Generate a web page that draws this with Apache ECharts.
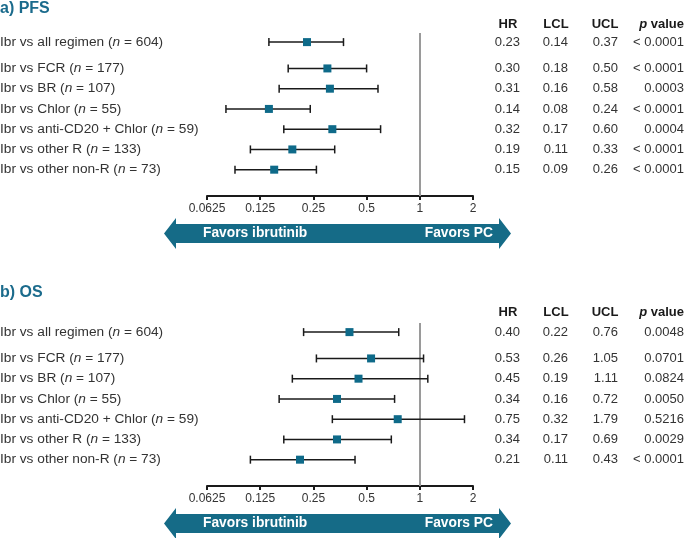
<!DOCTYPE html>
<html>
<head>
<meta charset="utf-8">
<script src="https://cdn.jsdelivr.net/npm/echarts@6/dist/echarts.min.js"></script>
<style>
html,body{margin:0;padding:0;background:#fff;}
#chart{width:685px;height:538px;}
</style>
</head>
<body>
<div id="chart"></div>
<script>
// ---- data ----
const comparisons = ['Ibr vs all regimen', 'Ibr vs FCR', 'Ibr vs BR', 'Ibr vs Chlor', 'Ibr vs anti-CD20 + Chlor', 'Ibr vs other R', 'Ibr vs other non-R'];
const nValues = [604, 177, 107, 55, 59, 133, 73];

const pfsHR  = [0.23, 0.30, 0.31, 0.14, 0.32, 0.19, 0.15];
const pfsLCL = [0.14, 0.18, 0.16, 0.08, 0.17, 0.11, 0.09];
const pfsUCL = [0.37, 0.50, 0.58, 0.24, 0.60, 0.33, 0.26];
const pfsP   = ['< 0.0001', '< 0.0001', '0.0003', '< 0.0001', '0.0004', '< 0.0001', '< 0.0001'];

const osHR  = [0.40, 0.53, 0.45, 0.34, 0.75, 0.34, 0.21];
const osLCL = [0.22, 0.26, 0.19, 0.16, 0.32, 0.17, 0.11];
const osUCL = [0.76, 1.05, 1.11, 0.72, 1.79, 0.69, 0.43];
const osP   = ['0.0048', '0.0701', '0.0824', '0.0050', '0.5216', '0.0029', '< 0.0001'];

const tickValues = [0.0625, 0.125, 0.25, 0.5, 1, 2];
const panelTitles = ['a) PFS', 'b) OS'];
const columnHeaders = ['HR', 'LCL', 'UCL', 'p value'];
const arrowLabels = ['Favors ibrutinib', 'Favors PC'];

// ---- layout (not data) ----
const rowPos = [0, 1.3, 2.3, 3.3, 4.3, 5.3, 6.3];
const FONT = '"Liberation Sans", Arial, Helvetica, sans-serif';
const TEAL = '#0e6a89';
const ARROW = '#156b87';
const TEXT = '#333333';
const gridLeft = 207, gridRight = 212, gridH = 163;
const panelTops = [33, 323];
const colRight = [520, 568, 618, 684];

const chart = echarts.init(document.getElementById('chart'));

function panelSeries(idx, HR, LCL, UCL, P) {
  const data = HR.map((h, i) => [i, LCL[i], UCL[i], h, rowPos[i]]);
  const custom = {
    type: 'custom',
    xAxisIndex: idx, yAxisIndex: idx,
    data: data,
    clip: false,
    silent: true,
    z: 3,
    renderItem: function (params, api) {
      const i = api.value(0);
      const y = api.value(4);
      const p1 = api.coord([api.value(1), y]);
      const p2 = api.coord([api.value(2), y]);
      const cy = p1[1];
      const ls = { stroke: '#1a1a1a', lineWidth: 1.5 };
      const kids = [
        { type: 'line', shape: { x1: p1[0], y1: cy, x2: p2[0], y2: cy }, style: ls },
        { type: 'line', shape: { x1: p1[0], y1: cy - 4, x2: p1[0], y2: cy + 4 }, style: ls },
        { type: 'line', shape: { x1: p2[0], y1: cy - 4, x2: p2[0], y2: cy + 4 }, style: ls },
        { type: 'text', style: {
            text: comparisons[i] + ' ({it|n} = ' + nValues[i] + ')',
            x: 0, y: cy, textAlign: 'left', textVerticalAlign: 'middle',
            font: '13.7px ' + FONT, fill: TEXT,
            rich: { it: { fontStyle: 'italic', fontSize: 13.7, fontFamily: FONT, fill: TEXT, color: TEXT } }
        } }
      ];
      const vals = [HR[i].toFixed(2), LCL[i].toFixed(2), UCL[i].toFixed(2), P[i]];
      vals.forEach((v, c) => {
        kids.push({ type: 'text', style: {
          text: v, x: colRight[c], y: cy, textAlign: 'right', textVerticalAlign: 'middle',
          font: '13px ' + FONT, fill: TEXT
        } });
      });
      return { type: 'group', children: kids };
    }
  };
  const scatter = {
    type: 'scatter',
    xAxisIndex: idx, yAxisIndex: idx,
    symbol: 'rect', symbolSize: 8,
    itemStyle: { color: TEAL, opacity: 1 },
    data: HR.map((h, i) => [h, rowPos[i]]),
    z: 4,
    silent: true,
    markLine: {
      silent: true, symbol: 'none',
      lineStyle: { color: '#9a9a9a', width: 2, type: 'solid' },
      label: { show: false },
      data: [{ xAxis: 1 }],
      z: 1
    }
  };
  return [custom, scatter];
}

function arrowGraphics(axisY) {
  const top = axisY + 28, bot = axisY + 47, mid = axisY + 37.5;
  const hTop = axisY + 22, hBot = axisY + 53;
  const L = 164, R = 511, Lb = 176, Rb = 499;
  return [
    { type: 'polygon', shape: { points: [[L, mid], [Lb, hTop], [Lb, top], [Rb, top], [Rb, hTop], [R, mid], [Rb, hBot], [Rb, bot], [Lb, bot], [Lb, hBot]] },
      style: { fill: ARROW } },
    { type: 'text', style: { text: arrowLabels[0], x: 203, y: mid, textAlign: 'left', textVerticalAlign: 'middle', font: 'bold 13.8px ' + FONT, fill: '#ffffff' } },
    { type: 'text', style: { text: arrowLabels[1], x: 493, y: mid, textAlign: 'right', textVerticalAlign: 'middle', font: 'bold 13.8px ' + FONT, fill: '#ffffff' } }
  ];
}

function headerGraphics(y) {
  const g = [];
  const centers = [508, 556, 605];
  columnHeaders.forEach((h, c) => {
    if (h === 'p value') {
      g.push({ type: 'text', style: { text: '{it|p} value', x: colRight[c], y: y, textAlign: 'right', textVerticalAlign: 'middle',
        font: 'bold 13px ' + FONT, fill: '#1a1a1a',
        rich: { it: { fontStyle: 'italic', fontWeight: 'bold', fontSize: 13, fontFamily: FONT, color: '#1a1a1a', fill: '#1a1a1a' } } } });
    } else {
      g.push({ type: 'text', style: { text: h, x: centers[c], y: y, textAlign: 'center', textVerticalAlign: 'middle',
        font: 'bold 13px ' + FONT, fill: '#1a1a1a' } });
    }
  });
  return g;
}

const xAxisCommon = {
  type: 'log', logBase: 2, min: 0.0625, max: 2, interval: 1, splitNumber: 5,
  position: 'bottom',
  axisLine: { show: true, onZero: false, lineStyle: { color: '#1a1a1a', width: 2 } },
  axisTick: { show: true, length: 4, inside: false, lineStyle: { color: '#1a1a1a', width: 2 } },
  axisLabel: { show: true, margin: 7, fontSize: 12, color: TEXT, fontFamily: FONT,
    formatter: v => { const r = tickValues.find(t => Math.abs(t - v) < 1e-6); return r !== undefined ? String(r) : ''; } },
  splitLine: { show: false }
};
const yAxisCommon = {
  type: 'value', inverse: true, min: -0.45, max: 7.6, show: false
};

const option = {
  animation: false,
  backgroundColor: '#ffffff',
  grid: panelTops.map(t => ({ left: gridLeft, right: gridRight, top: t, height: gridH, containLabel: false })),
  xAxis: [Object.assign({ gridIndex: 0 }, xAxisCommon), Object.assign({ gridIndex: 1 }, xAxisCommon)],
  yAxis: [Object.assign({ gridIndex: 0 }, yAxisCommon), Object.assign({ gridIndex: 1 }, yAxisCommon)],
  series: [].concat(panelSeries(0, pfsHR, pfsLCL, pfsUCL, pfsP), panelSeries(1, osHR, osLCL, osUCL, osP)),
  graphic: [].concat(
    [{ type: 'text', style: { text: panelTitles[0], x: 0, y: 9, textVerticalAlign: 'middle', font: 'bold 16px ' + FONT, fill: '#1b6b8c' } },
     { type: 'text', style: { text: panelTitles[1], x: 0, y: 293, textVerticalAlign: 'middle', font: 'bold 16px ' + FONT, fill: '#1b6b8c' } }],
    headerGraphics(24), headerGraphics(312),
    arrowGraphics(196), arrowGraphics(486)
  )
};
chart.setOption(option);
</script>
</body>
</html>
